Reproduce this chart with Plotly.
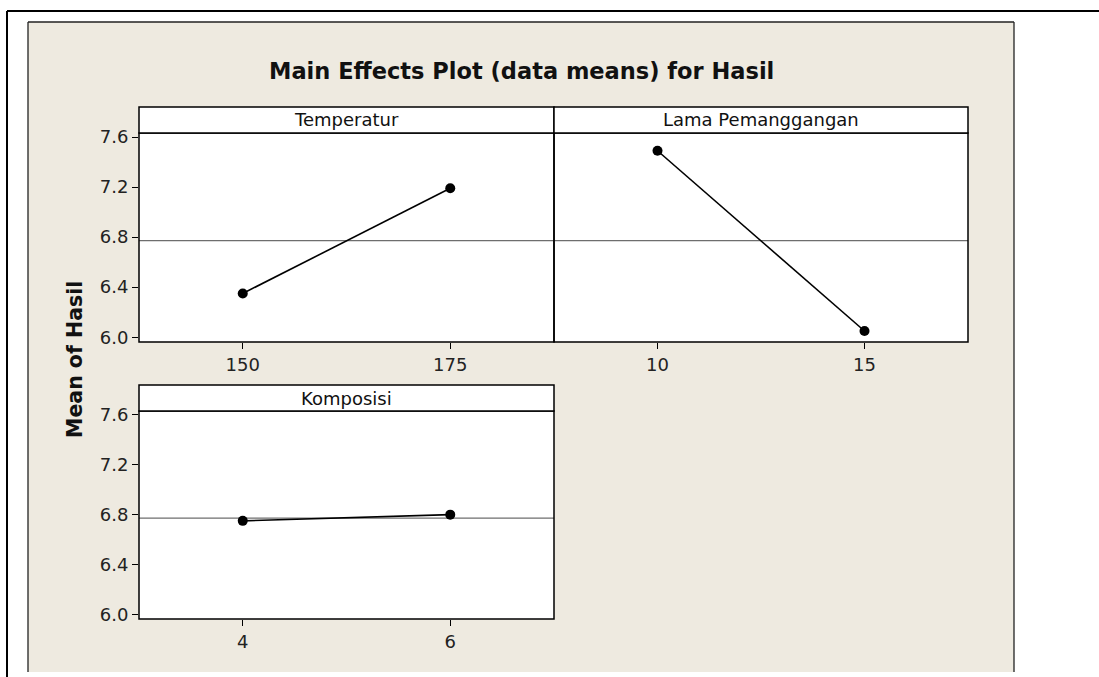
import plotly.graph_objects as go

# ---- data ----
factors = ["Temperatur", "Lama Pemanggangan", "Komposisi"]
temperatur_levels = [150, 175]
temperatur_means = [6.35, 7.19]
lama_levels = [10, 15]
lama_means = [7.49, 6.05]
komposisi_levels = [4, 6]
komposisi_means = [6.75, 6.80]
y_ticks = [6.0, 6.4, 6.8, 7.2, 7.6]

all_means = temperatur_means + lama_means + komposisi_means
grand_mean = sum(all_means) / len(all_means)

W, H = 1099, 677
def fx(p): return p / W
def fy(p): return 1 - p / H

FONT = "DejaVu Sans"
BEIGE = "#EEEAE0"

panels = [
    dict(levels=temperatur_levels, means=temperatur_means, xr=[137.5, 187.5],
         box=(139, 554, 133, 342), hdr=(107, 133), showy=True),
    dict(levels=lama_levels, means=lama_means, xr=[7.5, 17.5],
         box=(554, 968, 133, 342), hdr=(107, 133), showy=False),
    dict(levels=komposisi_levels, means=komposisi_means, xr=[3, 7],
         box=(139, 554, 411, 619), hdr=(385, 411), showy=True),
]
yr = [5.962, 7.632]

fig = go.Figure()
shapes = []
annotations = []

# outer frame & beige background
shapes.append(dict(type="rect", xref="paper", yref="paper", x0=fx(28), x1=fx(1014),
                   y0=fy(672), y1=fy(22), fillcolor=BEIGE, line=dict(width=0), layer="below"))
for (x0, y0, x1, y1) in [(28, 22, 1014, 22), (28, 22, 28, 672), (1014, 22, 1014, 672)]:
    shapes.append(dict(type="line", xref="paper", yref="paper", x0=fx(x0), x1=fx(x1),
                       y0=fy(y0), y1=fy(y1), line=dict(color="#222222", width=1.3), layer="below"))
for (x0, y0, x1, y1) in [(7, 11, 1099, 11), (7, 11, 7, 677)]:
    shapes.append(dict(type="line", xref="paper", yref="paper", x0=fx(x0), x1=fx(x1),
                       y0=fy(y0), y1=fy(y1), line=dict(color="black", width=2), layer="below"))

layout = {}
for i, (p, name) in enumerate(zip(panels, factors)):
    n = "" if i == 0 else str(i + 1)
    xa, ya = "x" + n, "y" + n
    l, r, t, b = p["box"]
    # white plot area
    shapes.append(dict(type="rect", xref="paper", yref="paper", x0=fx(l), x1=fx(r),
                       y0=fy(b), y1=fy(t), fillcolor="white", line=dict(width=0), layer="below"))
    # plot border
    shapes.append(dict(type="rect", xref="paper", yref="paper", x0=fx(l), x1=fx(r),
                       y0=fy(b), y1=fy(t), fillcolor="rgba(0,0,0,0)",
                       line=dict(color="black", width=1.5)))
    # header strip
    ht, hb = p["hdr"]
    shapes.append(dict(type="rect", xref="paper", yref="paper", x0=fx(l), x1=fx(r),
                       y0=fy(hb), y1=fy(ht), fillcolor="white",
                       line=dict(color="black", width=1.5)))
    annotations.append(dict(text=name, xref="paper", yref="paper", x=fx((l + r) / 2),
                            y=fy((ht + hb) / 2), xanchor="center", yanchor="middle",
                            showarrow=False, font=dict(family=FONT, size=18, color="#111111")))
    # mean reference line
    fig.add_trace(go.Scatter(x=p["xr"], y=[grand_mean, grand_mean], mode="lines",
                             line=dict(color="#6E6E6E", width=1.3), xaxis=xa, yaxis=ya,
                             showlegend=False, hoverinfo="skip"))
    fig.add_trace(go.Scatter(x=p["levels"], y=p["means"], mode="lines+markers",
                             line=dict(color="black", width=1.6),
                             marker=dict(color="black", size=10), xaxis=xa, yaxis=ya,
                             showlegend=False, cliponaxis=False))
    layout["xaxis" + n] = dict(domain=[fx(l), fx(r)], range=p["xr"], anchor=ya,
                               tickvals=p["levels"], ticktext=[str(v) for v in p["levels"]],
                               ticks="outside", ticklen=6, tickwidth=1.3, tickcolor="black",
                               showline=False, showgrid=False, zeroline=False, automargin=False,
                               tickfont=dict(family=FONT, size=18, color="#222222"))
    layout["yaxis" + n] = dict(domain=[fy(b), fy(t)], range=yr, anchor=xa,
                               tickvals=y_ticks if p["showy"] else [],
                               ticktext=[f"{v:.1f}" for v in y_ticks] if p["showy"] else [],
                               ticks="outside" if p["showy"] else "", ticklen=6, tickwidth=1.3,
                               tickcolor="black", showticklabels=p["showy"], automargin=False,
                               showline=False, showgrid=False, zeroline=False,
                               tickfont=dict(family=FONT, size=18, color="#222222"))

annotations.append(dict(text="<b>Main Effects Plot (data means) for Hasil</b>", xref="paper",
                        yref="paper", x=fx(521), y=fy(71), xanchor="center", yanchor="middle",
                        showarrow=False, font=dict(family=FONT, size=22.5, color="#111111")))
annotations.append(dict(text="<b>Mean of Hasil</b>", xref="paper", yref="paper", x=fx(75),
                        y=fy(360), xanchor="center", yanchor="middle", textangle=-90,
                        showarrow=False, font=dict(family=FONT, size=20.5, color="#111111")))

fig.update_layout(width=W, height=H,
                  margin=dict(l=0, r=0, t=0, b=0, pad=0, autoexpand=False),
                  showlegend=False,
                  paper_bgcolor="white", plot_bgcolor="rgba(0,0,0,0)",
                  shapes=shapes, annotations=annotations, **layout)

pin = ("document.body.style.margin='0';document.body.style.overflow='hidden';"
       "var d=document.getElementsByClassName('plotly-graph-div')[0];"
       "d.style.position='absolute';d.style.left='0px';d.style.top='0px';")
fig.write_html("out.html", post_script=pin, config={"displayModeBar": False})
